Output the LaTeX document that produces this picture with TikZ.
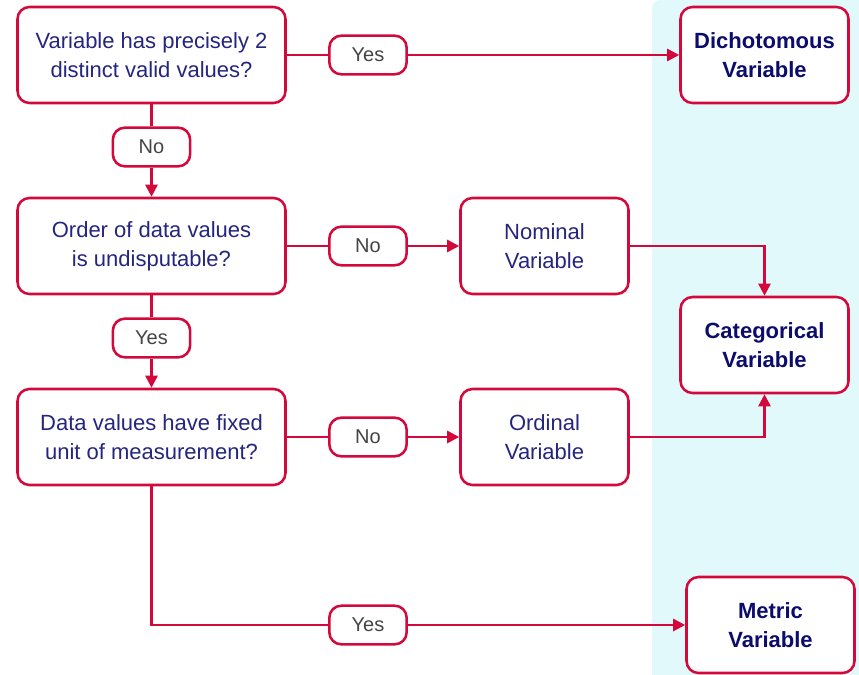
\documentclass[tikz,border=0pt]{standalone}
\usepackage{fontspec}
\setmainfont{Liberation Sans}
\usetikzlibrary{arrows.meta}
\definecolor{edgered}{HTML}{D3093B}
\definecolor{qblue}{HTML}{25257F}
\definecolor{rblue}{HTML}{0C0C6C}
\definecolor{lgray}{HTML}{444444}
\definecolor{panel}{HTML}{E2F9FC}
\begin{document}
\begin{tikzpicture}[x=0.75pt,y=-0.75pt,
  qbox/.style={draw=edgered,line width=1.9pt,fill=white,rounded corners=9pt,
    minimum width=201pt,minimum height=72pt,align=center,text=qblue,
    font=\fontsize{16.5}{21.75}\selectfont},
  rbox/.style={draw=edgered,line width=1.9pt,fill=white,rounded corners=9pt,
    minimum width=126pt,minimum height=72pt,align=center,text=rblue,
    font=\fontsize{16.5}{21.75}\selectfont\bfseries},
  vbox/.style={draw=edgered,line width=1.9pt,fill=white,rounded corners=9pt,
    minimum width=126pt,minimum height=72pt,align=center,text=qblue,
    font=\fontsize{16.5}{21.75}\selectfont},
  lbl/.style={draw=edgered,line width=1.9pt,fill=white,rounded corners=9pt,
    minimum width=58pt,minimum height=29pt,inner sep=0pt,text=lgray,
    font=\fontsize{15}{18}\selectfont},
  link/.style={draw=edgered,line width=1.9pt},
  arr/.style={link,-{Triangle[length=9pt,width=9pt]}}]
\useasboundingbox (0,0) rectangle (859,674);
% shaded panel holding the resulting variable types
\fill[panel,rounded corners=6pt] (652,0) rectangle (880,700);
\fill[panel] (652,30) rectangle (859,674);

% questions
\node[qbox] (q1) at (151.5,55) {Variable has precisely 2\\distinct valid values?};
\node[qbox] (q2) at (151.5,246) {Order of data values\\is undisputable?};
\node[qbox] (q3) at (151.5,437) {Data values have fixed\\unit of measurement?};

% intermediate and final types
\node[vbox] (nom) at (544.5,246) {Nominal\\Variable};
\node[vbox] (ord) at (544.5,437) {Ordinal\\Variable};
\node[rbox] (dich) at (764.5,55) {Dichotomous\\Variable};
\node[rbox] (cat) at (764.5,345) {Categorical\\Variable};
\node[rbox] (met) at (770.5,625) {Metric\\Variable};

% answer labels
\node[lbl] (yes1) at (368,55) {Yes};
\node[lbl] (no1) at (151.5,147) {No};
\node[lbl] (no2) at (368,246) {No};
\node[lbl] (yes2) at (151.5,338) {Yes};
\node[lbl] (no3) at (368,437) {No};
\node[lbl] (yes3) at (368,625) {Yes};

% connectors
\draw[link] (q1) -- (yes1);
\draw[arr] (yes1) -- (dich);
\draw[link] (q1) -- (no1);
\draw[arr] (no1) -- (q2);
\draw[link] (q2) -- (no2);
\draw[arr] (no2) -- (nom);
\draw[link] (q2) -- (yes2);
\draw[arr] (yes2) -- (q3);
\draw[link] (q3) -- (no3);
\draw[arr] (no3) -- (ord);
\draw[arr] (nom.east) -| (cat.north);
\draw[arr] (ord.east) -| (cat.south);
\draw[link] (q3.south) |- (yes3.west);
\draw[arr] (yes3) -- (met);
\end{tikzpicture}
\end{document}
